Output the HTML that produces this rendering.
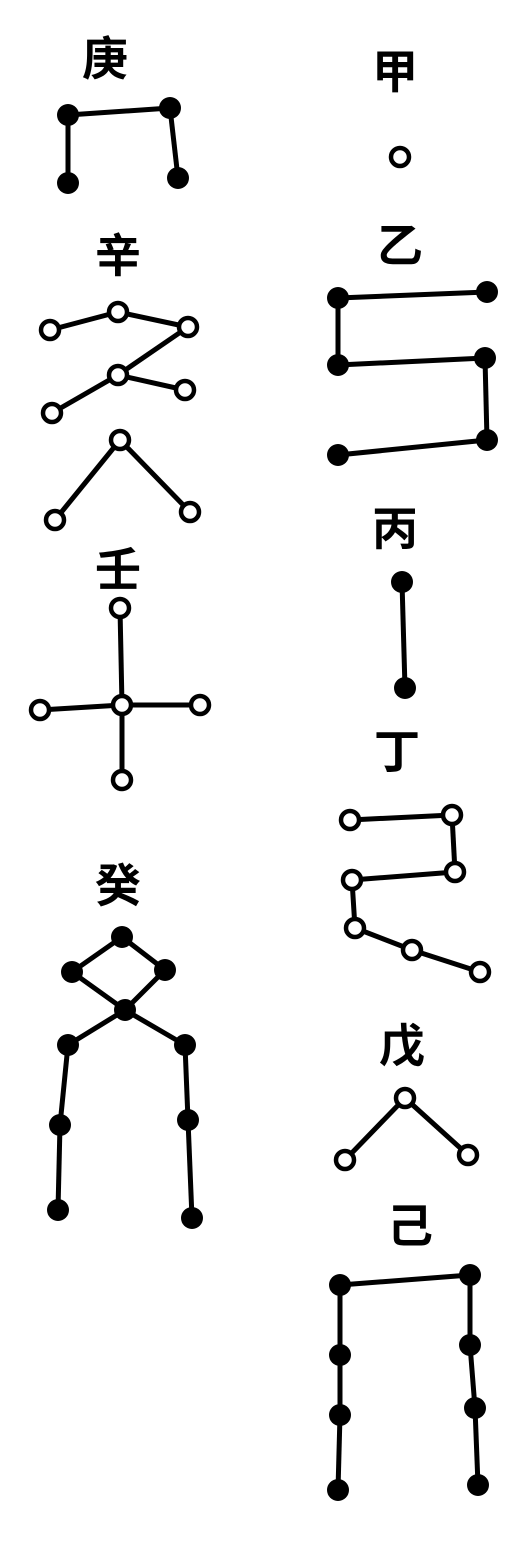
<!DOCTYPE html>
<html><head><meta charset="utf-8">
<style>
html,body{margin:0;padding:0;background:#fff;}
svg{display:block;}
text{font-family:"Liberation Sans","Noto Sans CJK SC",sans-serif;font-size:46px;font-weight:bold;fill:#000;text-anchor:middle;}
</style></head>
<body>
<svg id="chart" width="532" height="1560" viewBox="0 0 532 1560" xmlns="http://www.w3.org/2000/svg">
<rect width="532" height="1560" fill="#fff"/>
</svg>
<script>
const labels = ['庚','辛','壬','癸','甲','乙','丙','丁','戊','己'];
const labelX = [105,118,118,118,395,400,395,397,402,410];
const labelY = [75,272,586,902,88,262,545,768,1062,1242];
const filled = [true,false,false,true,false,true,true,false,false,true];
const pts_geng = [[68,183],[68,115],[170,108],[178,178]];
const edges_geng = [[0,1],[1,2],[2,3]];
const pts_xin = [[50,330],[118,312],[188,327],[118,375],[185,390],[52,413],[120,440],[55,520],[190,512]];
const edges_xin = [[0,1],[1,2],[2,3],[3,5],[3,4],[7,6],[6,8]];
const pts_ren = [[120,608],[40,710],[122,705],[200,705],[122,780]];
const edges_ren = [[0,2],[2,4],[1,2],[2,3]];
const pts_gui = [[122,937],[72,972],[165,970],[125,1010],[68,1045],[185,1045],[60,1125],[188,1120],[58,1210],[192,1218]];
const edges_gui = [[0,1],[1,3],[3,2],[2,0],[3,4],[4,6],[6,8],[3,5],[5,7],[7,9]];
const pts_jia = [[400,157]];
const edges_jia = [];
const pts_yi = [[487,292],[338,298],[338,365],[485,358],[487,440],[338,455]];
const edges_yi = [[0,1],[1,2],[2,3],[3,4],[4,5]];
const pts_bing = [[402,582],[405,688]];
const edges_bing = [[0,1]];
const pts_ding = [[350,820],[452,815],[455,872],[352,880],[355,928],[412,950],[480,972]];
const edges_ding = [[0,1],[1,2],[2,3],[3,4],[4,5],[5,6]];
const pts_wu = [[405,1098],[345,1160],[468,1155]];
const edges_wu = [[0,1],[0,2]];
const pts_ji = [[340,1285],[470,1275],[340,1355],[470,1345],[340,1415],[475,1408],[338,1490],[478,1485]];
const edges_ji = [[0,1],[0,2],[2,4],[4,6],[1,3],[3,5],[5,7]];

const groups = [[pts_geng,edges_geng],[pts_xin,edges_xin],[pts_ren,edges_ren],[pts_gui,edges_gui],[pts_jia,edges_jia],[pts_yi,edges_yi],[pts_bing,edges_bing],[pts_ding,edges_ding],[pts_wu,edges_wu],[pts_ji,edges_ji]];
const NS='http://www.w3.org/2000/svg';
const svg=document.getElementById('chart');
groups.forEach((g,gi)=>{
  const grp=document.createElementNS(NS,'g');
  
  
  svg.appendChild(grp);
  const t=document.createElementNS(NS,'text');
  t.setAttribute('x',labelX[gi]);t.setAttribute('y',labelY[gi]);
  t.textContent=labels[gi];
  
  
  grp.appendChild(t);
  const pts=g[0];
  g[1].forEach(e=>{
    const l=document.createElementNS(NS,'line');
    l.setAttribute('x1',pts[e[0]][0]);l.setAttribute('y1',pts[e[0]][1]);
    l.setAttribute('x2',pts[e[1]][0]);l.setAttribute('y2',pts[e[1]][1]);
    l.setAttribute('stroke','#000');l.setAttribute('stroke-width','5');
    
    
    grp.appendChild(l);
  });
  pts.forEach(p=>{
    const c=document.createElementNS(NS,'circle');
    c.setAttribute('cx',p[0]);c.setAttribute('cy',p[1]);
    if(filled[gi]){c.setAttribute('r','11');c.setAttribute('fill','#000');}
    else{c.setAttribute('r','9');c.setAttribute('fill','#fff');c.setAttribute('stroke','#000');c.setAttribute('stroke-width','4.5');}
    
    
    grp.appendChild(c);
  });
});
</script>
</body></html>
